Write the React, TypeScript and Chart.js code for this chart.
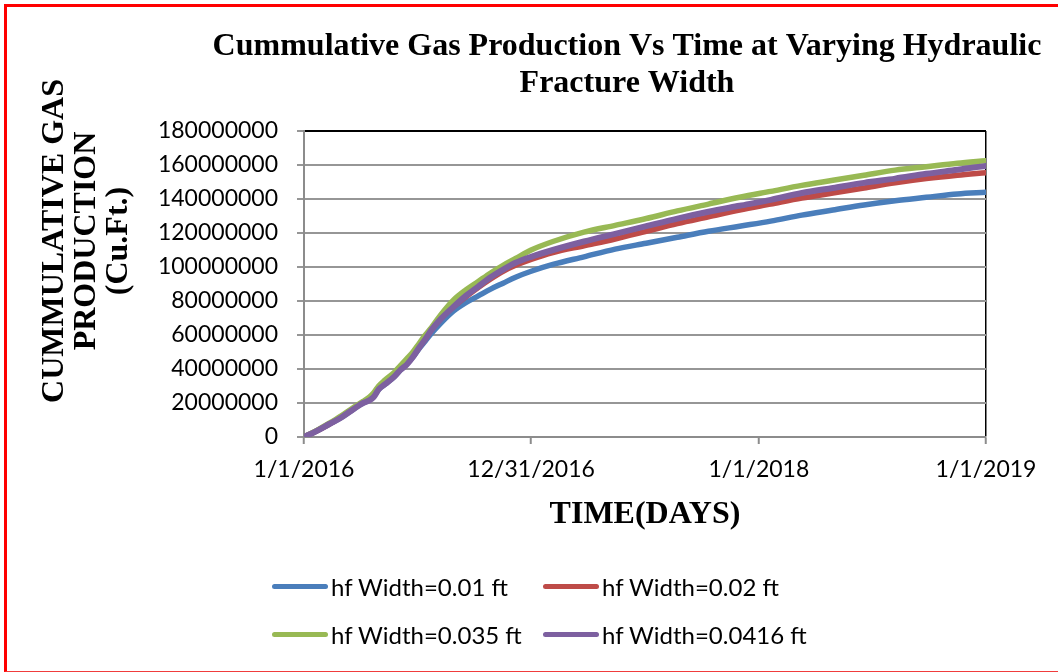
import React, { useEffect, useRef } from "react";
import { Chart, registerables } from "chart.js";

Chart.register(...registerables);

// ---------- text ----------
const TITLE_LINES = ["Cummulative Gas Production Vs Time at Varying Hydraulic", "Fracture Width"];
const X_TITLE = "TIME(DAYS)";
const Y_TITLE = ["CUMMULATIVE GAS", "PRODUCTION", "(Cu.Ft.)"];

// ---------- axes ----------
const X_TICK_DAYS = [0, 365, 731, 1096];
const X_TICK_LABELS = ["1/1/2016", "12/31/2016", "1/1/2018", "1/1/2019"];
const Y_TICKS = [0, 20000000, 40000000, 60000000, 80000000, 100000000, 120000000, 140000000, 160000000, 180000000];

// ---------- data (days since 1/1/2016) ----------
const DAYS = [0, 20, 40, 60, 80, 95, 105, 112, 120, 130, 145, 155, 165, 175, 185, 195, 205, 220, 240, 260, 280, 300, 320, 340, 365, 400, 450, 500, 550, 600, 650, 700, 750, 800, 850, 900, 950, 1000, 1050, 1096];

const HF_001 = [0, 3.5e6, 7.5e6, 11.5e6, 16.5e6, 20e6, 22e6, 24e6, 28e6, 31e6, 35.5e6, 39.5e6, 43e6, 47e6, 52e6, 56.5e6, 61e6, 67e6, 74e6, 79e6, 83e6, 87e6, 90.5e6, 94e6, 97.5e6, 101.5e6, 106e6, 110.5e6, 114e6, 117.5e6, 121e6, 124e6, 127e6, 130.5e6, 133.5e6, 136.5e6, 139e6, 141e6, 143e6, 144e6];
const HF_002 = [0, 3.5e6, 7.5e6, 12e6, 17e6, 20.5e6, 22.5e6, 25e6, 29.5e6, 32.5e6, 37e6, 41e6, 44.5e6, 49e6, 54e6, 59e6, 64e6, 70e6, 76.5e6, 82.5e6, 88e6, 93e6, 97.5e6, 101e6, 104.5e6, 108.5e6, 112.5e6, 116.5e6, 121e6, 125.5e6, 129.5e6, 133.5e6, 137e6, 140.5e6, 143.5e6, 146.5e6, 149.5e6, 152e6, 154e6, 155.5e6];
const HF_0035 = [0, 3.8e6, 8e6, 12.5e6, 17.5e6, 21e6, 23.5e6, 26e6, 30e6, 33.5e6, 38e6, 42e6, 46e6, 50e6, 55e6, 60e6, 64.5e6, 72e6, 80.5e6, 86.5e6, 91.5e6, 96.5e6, 101e6, 105e6, 110e6, 115e6, 120.5e6, 124.5e6, 128.5e6, 133e6, 137e6, 141e6, 144.5e6, 148e6, 151e6, 154e6, 157e6, 159e6, 161e6, 162.5e6];
const HF_00416 = [0, 3.5e6, 7.5e6, 11.5e6, 16.5e6, 20e6, 21.5e6, 23.5e6, 28e6, 31e6, 35.5e6, 39.5e6, 42.5e6, 47e6, 52.5e6, 57.5e6, 63e6, 69.5e6, 76.5e6, 83e6, 88.5e6, 94e6, 98.5e6, 102.5e6, 106e6, 110e6, 115e6, 119.5e6, 124e6, 128.5e6, 132.5e6, 136e6, 139.5e6, 143.5e6, 146.5e6, 149.5e6, 152e6, 154.8e6, 157.2e6, 159.5e6];

const SERIES_LABELS = ["hf Width=0.01 ft", "hf Width=0.02 ft", "hf Width=0.035 ft", "hf Width=0.0416 ft"];
const SERIES_VALUES = [HF_001, HF_002, HF_0035, HF_00416];
const SERIES_COLORS = ["#4A7EBB", "#BE4B48", "#98B954", "#7D60A0"];
const SERIES_DRAW_ORDER = [4, 3, 2, 1];

const SANS = "Lato";
const SERIF = "'Liberation Serif', 'Times New Roman', serif";

const titlePlugin = {
  id: "customTitles",
  afterDraw(chart: any) {
    const ctx = chart.ctx;
    ctx.save();
    ctx.fillStyle = "#000";
    // main title
    ctx.font = `bold 32px ${SERIF}`;
    ctx.textAlign = "center";
    ctx.textBaseline = "alphabetic";
    TITLE_LINES.forEach((t, i) => ctx.fillText(t, 619, 47 + i * 37));
    // y-axis title (rotated)
    ctx.font = `bold 32px ${SERIF}`;
    ctx.textBaseline = "middle";
    ctx.translate(79, 233);
    ctx.rotate(-Math.PI / 2);
    Y_TITLE.forEach((t, i) => ctx.fillText(t, 0, (i - 1) * 32));
    ctx.restore();
  },
};

export default function App() {
  const canvasRef = useRef<HTMLCanvasElement | null>(null);

  useEffect(() => {
    if (!canvasRef.current) return;
    const chart = new Chart(canvasRef.current, {
      type: "line",
      data: {
        datasets: SERIES_LABELS.map((label, i) => ({
          label,
          data: DAYS.map((d, j) => ({ x: d, y: SERIES_VALUES[i][j] })),
          borderColor: SERIES_COLORS[i],
          backgroundColor: SERIES_COLORS[i],
          borderWidth: i === 3 ? 6 : 5.5,
          pointRadius: 0,
          cubicInterpolationMode: "monotone" as const,
          order: SERIES_DRAW_ORDER[i],
          borderCapStyle: "round" as const,
          borderJoinStyle: "round" as const,
        })),
      },
      options: {
        animation: false,
        responsive: true,
        maintainAspectRatio: false,
        layout: { padding: { top: 123, left: 0, right: 64, bottom: 107 } },
        plugins: {
          legend: { display: false },
          title: { display: false },
          tooltip: { enabled: false },
        },
        scales: {
          x: {
            type: "linear",
            min: 0,
            max: 1096,
            afterBuildTicks: (s: any) => {
              s.ticks = X_TICK_DAYS.map((v) => ({ value: v }));
            },
            afterFit: (s: any) => {
              s.height = 120;
            },
            ticks: {
              autoSkip: false,
              maxRotation: 0,
              padding: 12,
              color: "#000",
              font: { family: SANS, size: 23 },
              callback: (v: any) => {
                const k = X_TICK_DAYS.indexOf(Number(v));
                return k >= 0 ? X_TICK_LABELS[k] : "";
              },
            },
            grid: {
              drawOnChartArea: true,
              color: (c: any) => (c.tick && c.tick.value === 1096 ? "#000" : "rgba(0,0,0,0)"),
              lineWidth: 1.5,
              tickLength: 7,
              tickColor: "#8c8c8c",
              tickWidth: 2,
            },
            border: { color: "#8c8c8c", width: 2 },
            title: {
              display: true,
              text: X_TITLE,
              color: "#000",
              font: { family: SERIF, size: 32, weight: "bold" },
              padding: { top: 0, bottom: 23 },
            },
          },
          y: {
            type: "linear",
            min: 0,
            max: 180000000,
            afterBuildTicks: (s: any) => {
              s.ticks = Y_TICKS.map((v) => ({ value: v }));
            },
            afterFit: (s: any) => {
              s.width = 296;
            },
            ticks: {
              padding: 19,
              color: "#000",
              font: { family: SANS, size: 23 },
              callback: (v: any) => String(v),
            },
            grid: {
              color: (c: any) => (c.tick && c.tick.value === 180000000 ? "#000" : "#969696"),
              lineWidth: 2,
              tickLength: 7,
              tickColor: "#969696",
              tickWidth: 2,
            },
            border: { color: "#8c8c8c", width: 2 },
            title: { display: false, text: Y_TITLE },
          },
        },
      },
      plugins: [titlePlugin],
    });
    return () => chart.destroy();
  }, []);

  return (
    <div style={{ position: "relative", width: 1042, height: 656 }}>
      <div
        style={{
          position: "fixed",
          left: 4,
          top: 4,
          width: 1054,
          height: 668,
          boxSizing: "border-box",
          borderTop: "3px solid #ff0000",
          borderLeft: "3px solid #ff0000",
          borderBottom: "1px solid #f03c3c",
          pointerEvents: "none",
        }}
      />
      <canvas ref={canvasRef} />
      <div
        style={{
          position: "absolute",
          left: 264,
          top: 564,
          display: "grid",
          gridTemplateColumns: "271px auto",
          rowGap: 20,
          fontFamily: SANS,
          fontSize: 24,
          color: "#000",
        }}
      >
        {SERIES_LABELS.map((label, i) => (
          <div key={label} style={{ display: "flex", alignItems: "center", height: 28 }}>
            <span
              style={{
                display: "inline-block",
                width: 56,
                height: 5,
                borderRadius: 3,
                background: SERIES_COLORS[i],
                marginRight: 3,
              }}
            />
            <span>{label}</span>
          </div>
        ))}
      </div>
    </div>
  );
}
